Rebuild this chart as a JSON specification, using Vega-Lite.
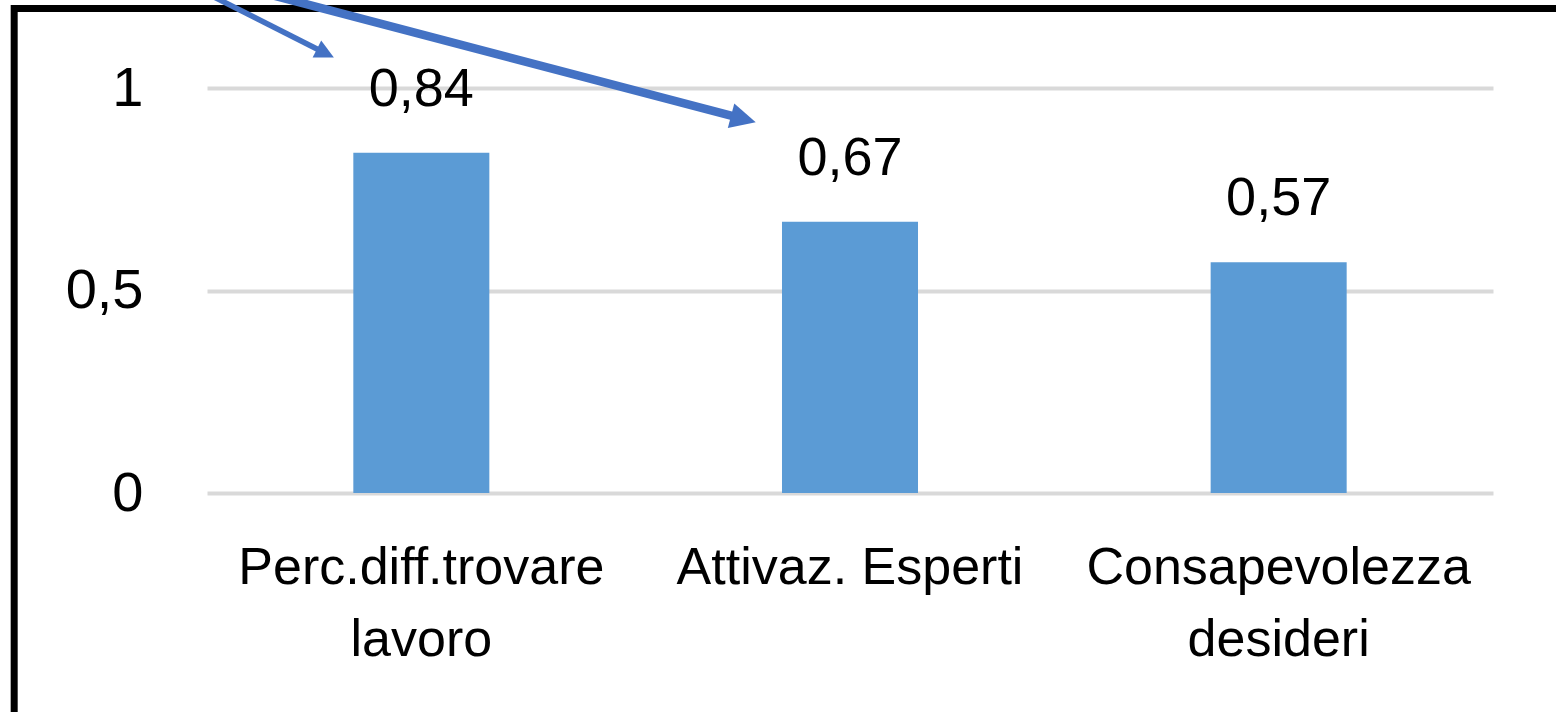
{
  "$schema": "https://vega.github.io/schema/vega-lite/v6.json",
  "width": 1286,
  "height": 405,
  "autosize": {"type": "none"},
  "padding": {"left": 207, "top": 88, "right": 63, "bottom": 219},
  "background": "white",
  "config": {
    "view": {"stroke": null},
    "locale": {"number": {"decimal": ",", "thousands": ".", "grouping": [3], "currency": ["", " €"]}}
  },
  "datasets": {
    "bars": [
      {"categoria": "Perc.diff.trovare lavoro", "valore": 0.84},
      {"categoria": "Attivaz. Esperti", "valore": 0.67},
      {"categoria": "Consapevolezza desideri", "valore": 0.57}
    ],
    "cornice": [
      {"ax": -0.4572, "ax2": 3.2496, "ay": 1.1963, "ay2": 1.1963},
      {"ax": -0.4498, "ax2": -0.4498, "ay": 1.2049, "ay2": -0.6346}
    ],
    "freccia1": [
      {"ax": -0.0159, "ay": 1.2420, "ax2": 0.2762, "ay2": 1.0859}
    ],
    "freccia2": [
      {"ax": 0.1059, "ay": 1.2420, "ax2": 1.2513, "ay2": 0.9235}
    ]
  },
  "layer": [
    {
      "data": {"name": "bars"},
      "mark": {"type": "bar", "color": "#5B9BD5", "width": {"band": 0.3173}},
      "encoding": {
        "x": {
          "field": "categoria", "type": "nominal", "sort": null,
          "scale": {"paddingInner": 0, "paddingOuter": 0},
          "axis": {
            "title": null, "labelAngle": 0, "domain": false, "ticks": false,
            "labelPadding": 49, "labelFont": "Liberation Sans", "labelFontSize": 52,
            "labelColor": "#000000", "labelLineHeight": 72, "labelLimit": 0,
            "labelOverlap": false, "labelBaseline": "top",
            "labelExpr": "datum.value == 'Perc.diff.trovare lavoro' ? ['Perc.diff.trovare', 'lavoro'] : datum.value == 'Consapevolezza desideri' ? ['Consapevolezza', 'desideri'] : datum.value"
          }
        },
        "y": {
          "field": "valore", "type": "quantitative",
          "scale": {"domain": [0, 1], "nice": false},
          "axis": {
            "title": null, "values": [0, 0.5, 1], "format": ".1~f",
            "domain": false, "ticks": false, "labelPadding": 64,
            "labelFont": "Liberation Sans", "labelFontSize": 56, "labelColor": "#000000",
            "grid": true, "gridColor": "#d9d9d9", "gridWidth": 4
          }
        }
      }
    },
    {
      "data": {"name": "bars"},
      "mark": {"type": "text", "dy": -47, "baseline": "alphabetic", "font": "Liberation Sans", "fontSize": 54, "color": "#000000"},
      "encoding": {
        "x": {"field": "categoria", "type": "nominal", "sort": null, "scale": {"paddingInner": 0, "paddingOuter": 0}, "axis": null},
        "y": {"field": "valore", "type": "quantitative", "scale": {"domain": [0, 1], "nice": false}},
        "text": {"field": "valore", "type": "quantitative", "format": ".2f"}
      }
    },
    {
      "data": {"name": "cornice"},
      "mark": {"type": "rule", "color": "#000000", "strokeWidth": 7},
      "encoding": {
        "x": {"field": "ax", "type": "quantitative", "scale": {"domain": [0, 3], "nice": false, "zero": false}, "axis": null},
        "x2": {"field": "ax2"},
        "y": {"field": "ay", "type": "quantitative", "scale": {"domain": [0, 1], "nice": false}},
        "y2": {"field": "ay2"}
      }
    },
    {
      "data": {"name": "freccia1"},
      "mark": {"type": "rule", "color": "#4472C4", "strokeWidth": 5.5},
      "encoding": {
        "x": {"field": "ax", "type": "quantitative", "scale": {"domain": [0, 3], "nice": false, "zero": false}, "axis": null},
        "x2": {"field": "ax2"},
        "y": {"field": "ay", "type": "quantitative", "scale": {"domain": [0, 1], "nice": false}},
        "y2": {"field": "ay2"}
      }
    },
    {
      "data": {"name": "freccia2"},
      "mark": {"type": "rule", "color": "#4472C4", "strokeWidth": 8.5},
      "encoding": {
        "x": {"field": "ax", "type": "quantitative", "scale": {"domain": [0, 3], "nice": false, "zero": false}, "axis": null},
        "x2": {"field": "ax2"},
        "y": {"field": "ay", "type": "quantitative", "scale": {"domain": [0, 1], "nice": false}},
        "y2": {"field": "ay2"}
      }
    },
    {
      "data": {"name": "freccia1"},
      "mark": {"type": "point", "shape": "M0,-1L1,1L-1,1Z", "filled": true, "opacity": 1, "color": "#4472C4", "size": 360, "angle": 116.8},
      "encoding": {
        "x": {"field": "ax2", "type": "quantitative", "scale": {"domain": [0, 3], "nice": false, "zero": false}, "axis": null},
        "y": {"field": "ay2", "type": "quantitative", "scale": {"domain": [0, 1], "nice": false}}
      }
    },
    {
      "data": {"name": "freccia2"},
      "mark": {"type": "point", "shape": "M0,-1L1,1L-1,1Z", "filled": true, "opacity": 1, "color": "#4472C4", "size": 650, "angle": 104.7},
      "encoding": {
        "x": {"field": "ax2", "type": "quantitative", "scale": {"domain": [0, 3], "nice": false, "zero": false}, "axis": null},
        "y": {"field": "ay2", "type": "quantitative", "scale": {"domain": [0, 1], "nice": false}}
      }
    }
  ],
  "resolve": {"scale": {"x": "independent"}, "axis": {"x": "independent"}}
}
